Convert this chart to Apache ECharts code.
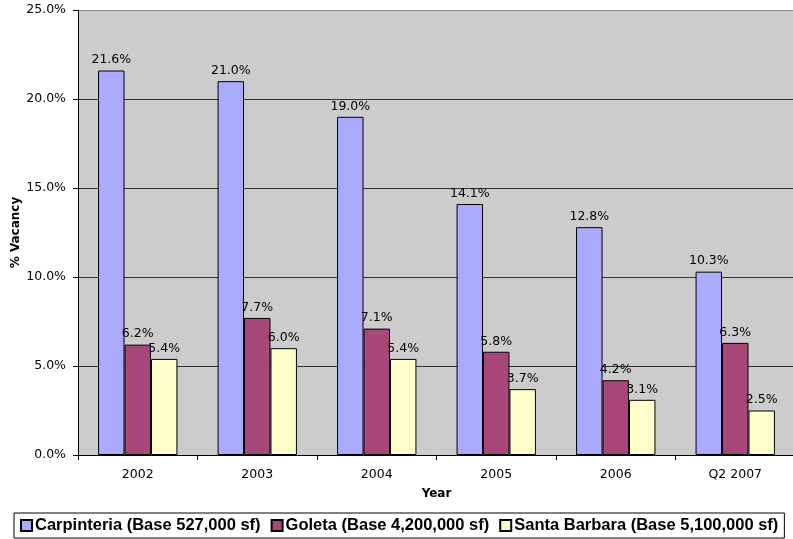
<!DOCTYPE html>
<html>
<head>
<meta charset="utf-8">
<script src="https://cdn.jsdelivr.net/npm/echarts@6/dist/echarts.min.js"></script>
<style>
html,body{margin:0;padding:0;background:#fff;}
#chart{width:793px;height:539px;}
</style>
</head>
<body>
<div id="chart"></div>
<script>
// Office vacancy rates by submarket
const years = ['2002', '2003', '2004', '2005', '2006', 'Q2 2007'];
const carpinteria = [21.6, 21.0, 19.0, 14.1, 12.8, 10.3];
const goleta = [6.2, 7.7, 7.1, 5.8, 4.2, 6.3];
const santaBarbara = [5.4, 6.0, 5.4, 3.7, 3.1, 2.5];
const seriesNames = [
  'Carpinteria (Base 527,000 sf)',
  'Goleta (Base 4,200,000 sf)',
  'Santa Barbara (Base 5,100,000 sf)'
];
const colors = ['#AAAAFF', '#A8487A', '#FFFFCC'];

const chart = echarts.init(document.getElementById('chart'));
const tickFont = { fontFamily: 'DejaVu Sans', fontSize: 12.5, color: '#000' };

function makeSeries(name, data, color) {
  return {
    name: name,
    type: 'bar',
    data: data,
    barGap: 0,
    barCategoryGap: '33.6%',
    itemStyle: { color: color, borderColor: '#000', borderWidth: 1 },
    label: {
      show: true,
      position: 'top',
      distance: 4,
      formatter: p => p.value.toFixed(1) + '%',
      fontFamily: 'DejaVu Sans',
      fontSize: 12.5,
      color: '#000'
    }
  };
}

chart.setOption({
  animation: false,
  backgroundColor: '#fff',
  grid: {
    left: 78, right: -2, top: 10, bottom: 84,
    outerBoundsMode: 'none',
    containLabel: false,
    show: true, backgroundColor: '#CCCCCC', borderWidth: 0
  },
  legend: {
    bottom: 1,
    left: 14,
    padding: [4, 6],
    itemGap: 10,
    itemWidth: 11,
    itemHeight: 11,
    icon: 'rect',
    borderColor: '#000',
    borderWidth: 1,
    textStyle: { fontFamily: 'Liberation Sans', fontWeight: 'bold', fontSize: 16.5, color: '#000', padding: [0, 0, 0, -2] },
    data: seriesNames
  },
  xAxis: {
    type: 'category',
    data: years,
    name: 'Year',
    nameLocation: 'middle',
    nameGap: 33,
    nameMoveOverlap: false,
    nameTextStyle: { fontFamily: 'DejaVu Sans', fontWeight: 'bold', fontSize: 12, color: '#000' },
    axisLine: { lineStyle: { color: '#000', width: 1 } },
    axisTick: { show: true, length: 5, lineStyle: { color: '#000' } },
    axisLabel: Object.assign({ margin: 13 }, tickFont)
  },
  yAxis: {
    type: 'value',
    min: 0, max: 25, interval: 5,
    name: '% Vacancy',
    nameLocation: 'middle',
    nameGap: 56,
    nameMoveOverlap: false,
    nameRotate: 90,
    nameTextStyle: { fontFamily: 'DejaVu Sans', fontWeight: 'bold', fontSize: 12, color: '#000' },
    axisLine: { show: true, lineStyle: { color: '#000', width: 1 } },
    axisTick: { show: true, length: 5, lineStyle: { color: '#000' } },
    axisLabel: Object.assign({ margin: 12, formatter: v => v.toFixed(1) + '%' }, tickFont),
    splitLine: {
      show: true,
      lineStyle: { color: ['#333', '#333', '#333', '#333', '#333', '#888'], width: 1 }
    }
  },
  series: [
    makeSeries(seriesNames[0], carpinteria, colors[0]),
    makeSeries(seriesNames[1], goleta, colors[1]),
    makeSeries(seriesNames[2], santaBarbara, colors[2])
  ]
});
</script>
</body>
</html>
